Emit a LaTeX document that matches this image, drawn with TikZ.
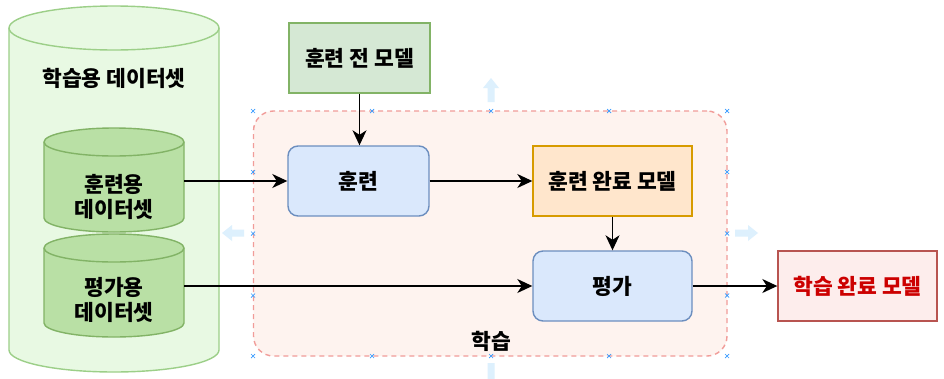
\documentclass[tikz,border=0pt]{standalone}
\usepackage{fontspec}
\setmainfont{Noto Sans CJK KR}
\usetikzlibrary{arrows.meta}
\definecolor{bigfill}{HTML}{E8F9E3}
\definecolor{bigline}{HTML}{9CCF88}
\definecolor{gfill}{HTML}{B9E0A5}
\definecolor{gline}{HTML}{82B366}
\definecolor{prefill}{HTML}{D5E8D4}
\definecolor{cfill}{HTML}{FEF3EF}
\definecolor{cline}{HTML}{F19C99}
\definecolor{bfill}{HTML}{DAE8FC}
\definecolor{bline}{HTML}{6C8EBF}
\definecolor{ofill}{HTML}{FFE6CC}
\definecolor{oline}{HTML}{D79B00}
\definecolor{rfill}{HTML}{FDEDEC}
\definecolor{rline}{HTML}{B85450}
\definecolor{rtext}{HTML}{CC0000}
\definecolor{hov}{HTML}{DDF0FD}
\definecolor{xmark}{HTML}{3399FF}
\newcommand\mycyl[6]{%
  \pgfmathsetmacro\cxa{(#2+#3)/2}%
  \pgfmathsetmacro\crx{(#3-#2)/2}%
  \pgfmathsetmacro\kx{0.5523*\crx}%
  \pgfmathsetmacro\ky{0.5523*#6}%
  \path[#1] (#2,#4) -- (#2,#5) .. controls (#2,#5+\ky) and (\cxa-\kx,#5+#6) .. (\cxa,#5+#6)
    .. controls (\cxa+\kx,#5+#6) and (#3,#5+\ky) .. (#3,#5) -- (#3,#4)
    .. controls (#3,#4-\ky) and (\cxa+\kx,#4-#6) .. (\cxa,#4-#6)
    .. controls (\cxa-\kx,#4-#6) and (#2,#4-\ky) .. (#2,#4) -- cycle;
  \path[#1,fill=none] (#2,#4) .. controls (#2,#4+\ky) and (\cxa-\kx,#4+#6) .. (\cxa,#4+#6)
    .. controls (\cxa+\kx,#4+#6) and (#3,#4+\ky) .. (#3,#4);
}
\newcommand\xm[2]{\draw[xmark,line width=0.7pt] (#1-2,#2-2) -- (#1+2,#2+2) (#1-2,#2+2) -- (#1+2,#2-2);}
\begin{document}
\begin{tikzpicture}[x=1pt,y=-1pt,
  lbl/.style={font=\fontsize{21.5}{24.5}\selectfont\bfseries, align=center},
  boxbase/.style={draw, line width=1.4pt, inner sep=0pt, font=\fontsize{21.5}{24.5}\selectfont\bfseries, align=center},
  prebox/.style={boxbase, fill=prefill, draw=gline, minimum width=141pt, minimum height=70pt},
  procbox/.style={boxbase, fill=bfill, draw=bline, rounded corners=10pt, minimum height=70pt},
  donebox/.style={boxbase, fill=ofill, draw=oline, minimum width=159pt, minimum height=70pt},
  finalbox/.style={boxbase, fill=rfill, draw=rline, text=rtext, minimum width=159pt, minimum height=70pt},
  container/.style={draw=cline, fill=cfill, line width=1.4pt, dash pattern=on 5pt off 4pt, rounded corners=20pt, minimum width=473.5pt, minimum height=245pt, inner sep=0pt},
  ghost/.style={inner sep=0pt, minimum width=140pt, minimum height=1pt},
  arr/.style={-{Stealth[length=15pt,width=14pt,inset=4.5pt]}, line width=1.4pt, black},
  hover/.style={fill=hov}
]
\useasboundingbox (0,0) rectangle (944,378);
\clip (0,0) rectangle (944,378);
\fill[white] (0,0) rectangle (944,378);

% big cylinder
\mycyl{draw=bigline, fill=bigfill, line width=1.4pt}{9}{219}{28}{350}{22}
\node[lbl] (alldata) at (114,78) {학습용 데이터셋};

% inner cylinders
\mycyl{draw=gline, fill=gfill, line width=1.4pt}{44}{184}{142}{218}{14}
\node[lbl] (trainlbl) at (114,197) {훈련용\\데이터셋};
\node[ghost] (trainds) at (114,181) {};
\mycyl{draw=gline, fill=gfill, line width=1.4pt}{44}{184}{248}{323}{14}
\node[lbl] (evallbl) at (114,300) {평가용\\데이터셋};
\node[ghost] (evalds) at (114,286) {};

% container
\node[container] (learn) at (490.25,233.5) {};
\node[lbl, anchor=center] (learnlbl) at (491,341) {학습};

% hover artifacts
\fill[hover] (491,78) -- (499,88) -- (494.5,88) -- (494.5,102) -- (487.5,102) -- (487.5,88) -- (483,88) -- cycle;
\fill[hover] (491,389) -- (499,379) -- (494.5,379) -- (494.5,363) -- (487.5,363) -- (487.5,379) -- (483,379) -- cycle;
\fill[hover] (222,233) -- (232,225) -- (232,229.5) -- (244,229.5) -- (244,236.5) -- (232,236.5) -- (232,241) -- cycle;
\fill[hover] (758,233) -- (748,225) -- (748,229.5) -- (735,229.5) -- (735,236.5) -- (748,236.5) -- (748,241) -- cycle;
\foreach \xx in {253,372,491,609,727} {\xm{\xx}{111}\xm{\xx}{356}}
\foreach \yy in {172,233.5,295.5} {\xm{253}{\yy}\xm{727}{\yy}}

% boxes
\node[prebox] (pre) at (359.5,58) {훈련 전 모델};
\node[procbox, minimum width=141pt] (train) at (358.5,181) {훈련};
\node[donebox] (done) at (612.5,181) {훈련 완료 모델};
\node[procbox, minimum width=159pt] (eval) at (612.5,286) {평가};
\node[finalbox] (final) at (857.5,286) {학습 완료 모델};

% connectors
\draw[arr] (pre.south) -- (pre.south |- train.north);
\draw[arr] (train.west -| trainds.east) -- (train.west);
\draw[arr] (train.east) -- (done.west);
\draw[arr] (done.south) -- (eval.north);
\draw[arr] (eval.west -| evalds.east) -- (eval.west);
\draw[arr] (eval.east) -- (final.west);
\end{tikzpicture}
\end{document}
